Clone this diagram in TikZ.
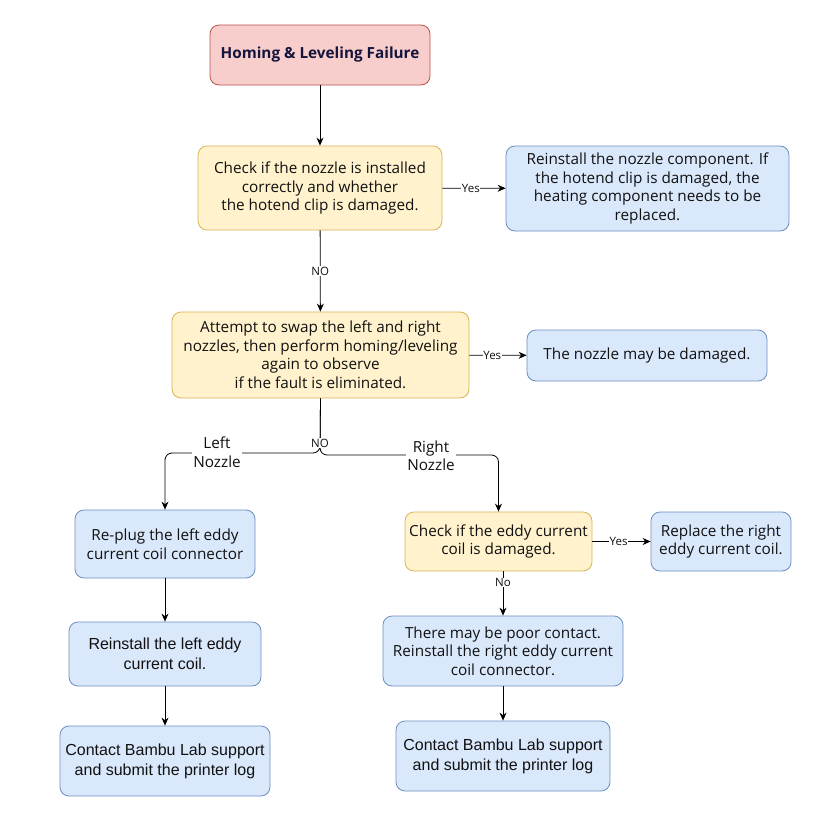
\documentclass[tikz,border=0pt]{standalone}
\usepackage{fontspec}
\setmainfont{Open Sans}
\newfontfamily\arialf{Liberation Sans}
\usetikzlibrary{arrows.meta}
\definecolor{redfill}{HTML}{F8CECC}
\definecolor{redline}{HTML}{B85450}
\definecolor{yelfill}{HTML}{FFF2CC}
\definecolor{yelline}{HTML}{D6B656}
\definecolor{bluefill}{HTML}{DAE8FC}
\definecolor{blueline}{HTML}{6C8EBF}
\definecolor{titlec}{HTML}{14143C}
\definecolor{txt}{HTML}{111111}
\tikzset{
  x=1pt,y=-1pt,
  boxbase/.style={rounded corners=9pt, line width=0.8pt, align=center, inner sep=0pt, text=txt,
     font=\fontsize{15.3}{18.5}\selectfont},
  redbox/.style={boxbase, fill=redfill, draw=redline},
  yelbox/.style={boxbase, fill=yelfill, draw=yelline},
  bluebox/.style={boxbase, fill=bluefill, draw=blueline},
  arialbox/.style={font=\arialf\fontsize{16}{20}\selectfont},
  arr/.style={draw=black, line width=0.8pt, -{Stealth[length=8pt,width=7pt]}},
  elab/.style={fill=white, inner sep=0.5pt, text=txt, font=\fontsize{11.5}{13}\selectfont},
  blab/.style={fill=white, inner sep=1pt, align=center, text=txt, font=\fontsize{15.3}{18.5}\selectfont},
}
\begin{document}
\begin{tikzpicture}
\useasboundingbox[fill=white] (0,0) rectangle (816,816);

\node[redbox, minimum width=220pt, minimum height=60pt, font=\bfseries\fontsize{15.3}{18}\selectfont, text=titlec] (title) at (320,55) {Homing \& Leveling Failure};
\node[yelbox, minimum width=244pt, minimum height=84pt] (chk) at (320,188) {Check if the nozzle is installed\\correctly and whether\\the hotend clip is damaged.};
\node[bluebox, minimum width=283pt, minimum height=85pt] (rein) at (647.5,188.5) {Reinstall the nozzle component. If\\the hotend clip is damaged, the\\heating component needs to be\\replaced.};
\node[yelbox, minimum width=297pt, minimum height=86pt] (swap) at (320.5,355) {Attempt to swap the left and right\\nozzles, then perform homing/leveling\\again to observe\\if the fault is eliminated.};
\node[bluebox, minimum width=240pt, minimum height=51pt] (dmg) at (647,355.5) {The nozzle may be damaged.};
\node[bluebox, minimum width=180pt, minimum height=68pt] (replug) at (165,544) {Re-plug the left eddy\\current coil connector};
\node[yelbox, minimum width=187pt, minimum height=59pt] (eddy) at (498.5,541.5) {Check if the eddy current\\coil is damaged.};
\node[bluebox, minimum width=140pt, minimum height=59pt] (repr) at (721,541.5) {Replace the right\\eddy current coil.};
\node[bluebox, arialbox, minimum width=192pt, minimum height=64pt] (reinl) at (165,654) {Reinstall the left eddy\\current coil.};
\node[bluebox, minimum width=240pt, minimum height=70pt] (poor) at (503,651) {There may be poor contact.\\Reinstall the right eddy current\\coil connector.};
\node[bluebox, arialbox, minimum width=210pt, minimum height=70pt] (contl) at (165,761) {Contact Bambu Lab support\\and submit the printer log};
\node[bluebox, arialbox, minimum width=214pt, minimum height=70pt] (contr) at (503,756) {Contact Bambu Lab support\\and submit the printer log};

\coordinate (jl) at (320,453);
\coordinate (jr) at (320,455);

\draw[arr] (title) -- (chk);
\draw[arr] (chk) -- node[elab, pos=0.45] {Yes} (rein);
\draw[arr] (chk) -- node[elab, pos=0.5] {NO} (swap);
\draw[arr] (swap) -- node[elab, pos=0.4] {Yes} (dmg);
\draw[arr, rounded corners=7pt] (swap.south) -- (jl) -| (replug.north);
\draw[arr, rounded corners=7pt] (swap.south) -- (jr) -| (eddy.north);
\node[elab] (nolab) at (320,443) {NO};
\node[blab] (llab) at (217,452) {Left\\Nozzle};
\node[blab] (rlab) at (431,456) {Right\\Nozzle};
\draw[arr] (eddy) -- node[elab, pos=0.45] {Yes} (repr);
\draw[arr] (eddy.south -| poor.north) -- node[elab, pos=0.25] {No} (poor.north);
\draw[arr] (replug) -- (reinl);
\draw[arr] (reinl) -- (contl);
\draw[arr] (poor) -- (contr);
\end{tikzpicture}
\end{document}
